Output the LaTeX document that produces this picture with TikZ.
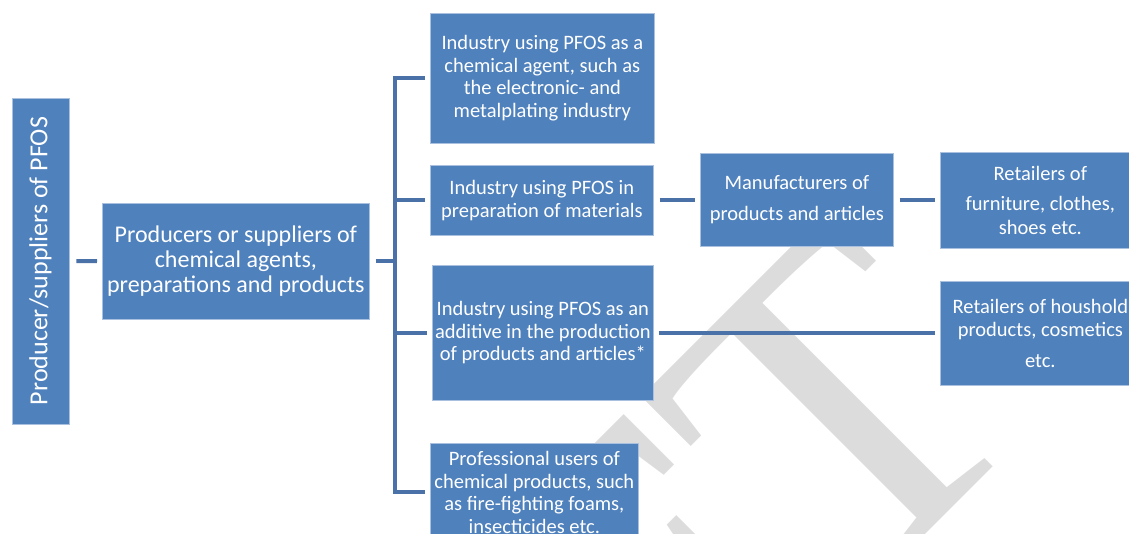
\documentclass[tikz,border=0pt]{standalone}
\usepackage{fontspec}
\setmainfont{Carlito}
\newfontfamily\wmfont{Liberation Serif}
\definecolor{boxblue}{HTML}{4F81BD}
\definecolor{boxedge}{HTML}{A9C0DF}
\definecolor{lineblue}{HTML}{4A72A8}
\definecolor{wmgray}{HTML}{DCDCDC}
\begin{document}
\begin{tikzpicture}[x=1pt,y=-1pt,
  box/.style={fill=boxblue,draw=boxedge,line width=0.7pt,text=white,align=center,inner sep=0pt},
  nw/.style={anchor=north west},
  conn/.style={draw=lineblue,line width=4pt},
  txt/.style={font=\fontsize{20.5}{22.5}\selectfont}]
\useasboundingbox (0,0) rectangle (1129,533);
\begin{scope}
\clip (0,0) rectangle (1129,533);
\node[text=wmgray, font=\wmfont\fontsize{455}{455}\selectfont, rotate=45, anchor=base east, inner sep=0pt] (wm) at (1043,417) {DRAFT};

\node[box, rotate=90, minimum width=326pt, minimum height=57pt, font=\fontsize{26}{30}\selectfont] (src) at (40.5,261) {Producer/suppliers of PFOS};
\node[box, nw, minimum width=267pt, minimum height=116pt, font=\fontsize{24}{25}\selectfont] (prod) at (102,203) {Producers or suppliers of\\chemical agents,\\preparations and products};

\node[box, nw, txt, minimum width=224pt, minimum height=130pt] (agent) at (430,13) {Industry using PFOS as a\\chemical agent, such as\\the electronic- and\\metalplating industry};
\node[box, nw, txt, minimum width=223pt, minimum height=70pt] (prep) at (430,165) {Industry using PFOS in\\preparation of materials};
\node[box, nw, txt, minimum width=221pt, minimum height=135pt] (addit) at (432,265) {Industry using PFOS as an\\additive in the production\\of products and articles*};
\node[box, nw, txt, minimum width=208pt, minimum height=98pt] (prof) at (430,443) {Professional users of\\chemical products, such\\as fire-fighting foams,\\insecticides etc.};

\node[box, nw, txt, minimum width=193pt, minimum height=93pt] (manu) at (700,153) {Manufacturers of\\[8.5pt]products and articles};
\node[box, nw, txt, minimum width=200pt, minimum height=96pt] (ret1) at (940,152) {Retailers of\\[7.5pt]furniture, clothes,\\[1.5pt]shoes etc.};
\node[box, nw, txt, minimum width=200pt, minimum height=104pt] (ret2) at (940,281) {Retailers of houshold\\products, cosmetics\\[8.5pt]etc.};

% connectors
\draw[conn, shorten <=7pt, shorten >=5pt] (src) -- (prod);
\draw[conn, line join=miter] ([xshift=-5pt]agent.west) -- ++(-30,0) coordinate (bt)
   -- (bt |- prof.west) -- ([xshift=-5pt]prof.west);
\draw[conn] ([xshift=6pt]prod.east) -- (bt |- prod.east);
\draw[conn] ([xshift=-5pt]prep.west) -- (bt |- prep.west);
\draw[conn] ([xshift=-5pt]addit.west) -- (bt |- addit.west);
\draw[conn] ([xshift=6pt]prep.east) -- ([xshift=-5pt]prep.east -| manu.west);
\draw[conn] ([xshift=6pt]manu.east) -- ([xshift=-5pt]manu.east -| ret1.west);
\draw[conn] ([xshift=5pt]addit.east) -- ([xshift=-5pt]addit.east -| ret2.west);
\end{scope}
\end{tikzpicture}
\end{document}
